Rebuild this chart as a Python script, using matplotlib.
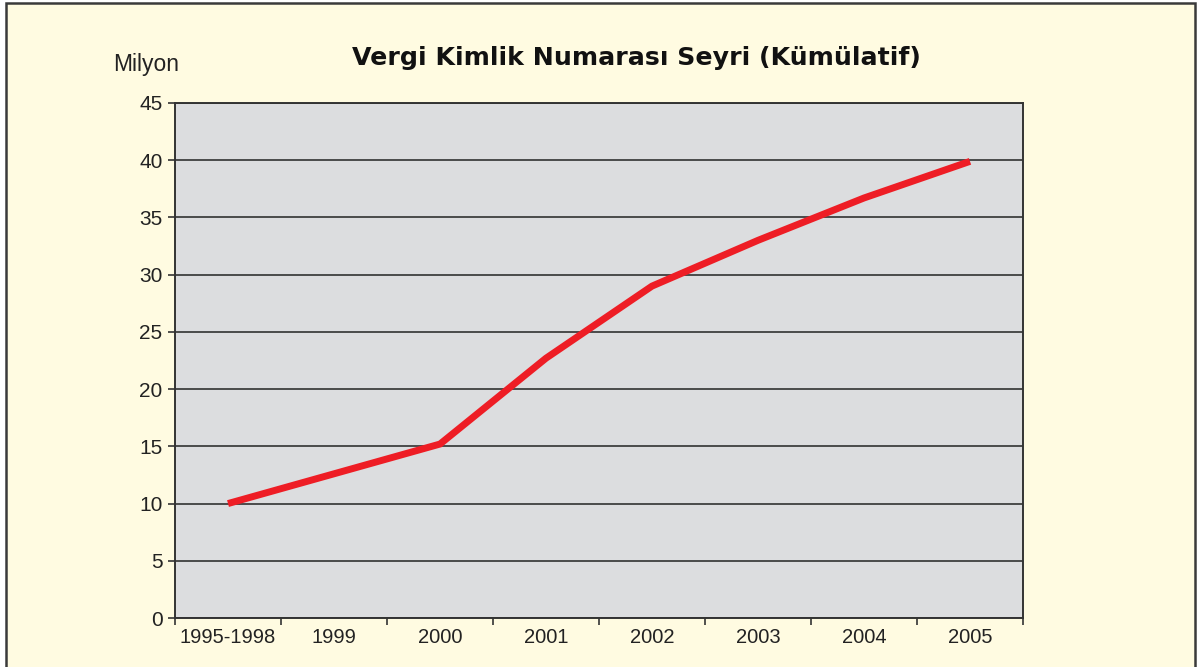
import matplotlib.pyplot as plt
from matplotlib.patches import Rectangle
import numpy as np

# veriler (milyon, kümülatif)
yillar = ["1995-1998", "1999", "2000", "2001", "2002", "2003", "2004", "2005"]
vkn_milyon = [10.0, 12.6, 15.2, 22.7, 29.0, 33.0, 36.7, 39.9]
y_ticks = [0, 5, 10, 15, 20, 25, 30, 35, 40, 45]

arka_plan = "#FFFBE1"
kirmizi = "#EE1D25"

plt.rcParams['font.family'] = ['Liberation Sans', 'DejaVu Sans']

fig = plt.figure(figsize=(11.97, 6.67), dpi=100, facecolor="white")

# sarı çerçeve
fig.patches.append(Rectangle((6 / 1197, -0.05), 1189 / 1197, 1.05 - 3 / 667,
                             transform=fig.transFigure, facecolor=arka_plan,
                             edgecolor="#3a3a3a", linewidth=1.8, zorder=-5))

ax = fig.add_axes([175 / 1197, 49 / 667, 848 / 1197, 515 / 667])
ax.set_zorder(2)
ax.set_facecolor("#DCDDDF")

x = np.arange(len(yillar))
ax.plot(x, vkn_milyon, color=kirmizi, linewidth=5, solid_capstyle="butt",
        solid_joinstyle="miter", zorder=3)

ax.set_xlim(-0.5, len(yillar) - 0.5)
ax.set_ylim(0, 45)
ax.set_yticks(y_ticks)
ax.set_yticklabels([str(v) for v in y_ticks], fontsize=15, color="#222222")
ax.yaxis.grid(True, color="#4a4a4a", linewidth=1.4)
ax.set_axisbelow(True)

ax.set_xticks(x)
ax.set_xticklabels(yillar, fontsize=14.5, color="#222222")
ax.set_xticks(np.arange(-0.5, len(yillar)), minor=True)
ax.tick_params(axis="x", which="major", length=0, pad=7)
ax.tick_params(axis="x", which="minor", length=5, width=1.2, color="#333333")
ax.tick_params(axis="y", length=5, width=1.2, color="#333333", pad=4)

for s in ax.spines.values():
    s.set_color("#333333")
    s.set_linewidth(1.4)

fig.text(636 / 1197, 1 - 58 / 667, "Vergi Kimlik Numarası Seyri (Kümülatif)",
         ha="center", va="center", fontsize=18.2, fontweight="bold",
         family=["DejaVu Sans"], color="#111111")
fig.text(113 / 1197, 1 - 64 / 667, "Milyon", ha="left", va="center",
         fontsize=16.5, color="#222222")

fig.savefig("out.png", dpi=100, facecolor=fig.get_facecolor())
